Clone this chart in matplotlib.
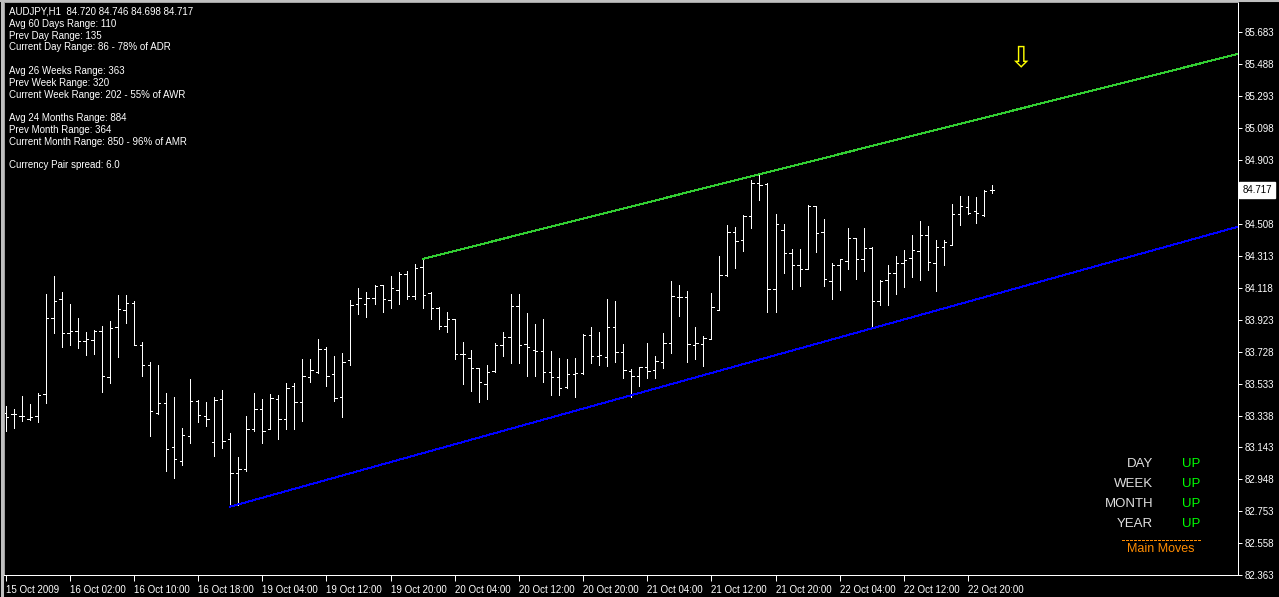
import numpy as np
import matplotlib
matplotlib.use("Agg")
import matplotlib.pyplot as plt
from matplotlib.lines import Line2D

# ---------- DATA (AUDJPY H1) ----------
opens = [83.354, 83.346, 83.336, 83.319, 83.336, 83.468, 83.933, 84.049, 83.841, 83.856,
         83.794, 83.800, 83.856, 83.572, 83.878, 83.982, 84.029, 83.768, 83.648, 83.354,
         83.417, 83.144, 83.060, 83.212, 83.426, 83.336, 83.177, 83.438, 83.193, 82.985,
         83.013, 83.254, 83.377, 83.254, 83.442, 83.316, 83.521, 83.419, 83.574, 83.603,
         83.745, 83.591, 83.450, 83.676, 84.019, 84.019, 84.056, 84.135, 84.045, 84.105,
         84.202, 84.068, 84.245, 84.086, 83.996, 83.884, 83.927, 83.713, 83.689, 83.627,
         83.533, 83.611, 83.768, 83.821, 84.007, 83.774, 83.739, 83.733, 83.607, 83.574,
         83.515, 83.591, 83.597, 83.831, 83.703, 83.695, 83.878, 83.725, 83.613, 83.580,
         83.634, 83.617, 83.664, 83.780, 84.062, 84.062, 83.768, 83.774, 83.805, 83.982,
         84.196, 84.459, 84.410, 84.559, 84.759, 84.755, 84.111, 84.471, 84.331, 84.261,
         84.233, 84.618, 84.463, 84.160, 84.257, 84.284, 84.423, 84.298, 84.363, 84.036,
         84.165, 84.210, 84.273, 84.304, 84.345, 84.445, 84.273, 84.367, 84.384, 84.568,
         84.615, 84.591, 84.564, 84.720]
highs = [83.399, 83.378, 83.458, 83.409, 83.474, 84.082, 84.192, 84.094, 84.021, 83.933,
         83.849, 83.862, 83.886, 83.917, 84.076, 84.076, 84.037, 83.786, 83.664, 83.648,
         83.474, 83.454, 83.262, 83.562, 83.432, 83.421, 83.454, 83.495, 83.234, 83.085,
         83.336, 83.474, 83.440, 83.470, 83.464, 83.536, 83.536, 83.684, 83.684, 83.807,
         83.756, 83.703, 83.719, 84.045, 84.119, 84.096, 84.137, 84.137, 84.192, 84.216,
         84.223, 84.265, 84.296, 84.092, 84.004, 83.974, 83.927, 83.786, 83.739, 83.631,
         83.646, 83.782, 83.848, 84.084, 84.082, 83.966, 83.898, 83.927, 83.733, 83.690,
         83.684, 83.690, 83.835, 83.878, 83.849, 84.049, 84.039, 83.774, 83.621, 83.637,
         83.780, 83.701, 83.841, 84.160, 84.135, 84.100, 83.881, 83.825, 84.090, 84.314,
         84.504, 84.493, 84.563, 84.779, 84.814, 84.763, 84.571, 84.510, 84.355, 84.357,
         84.626, 84.618, 84.539, 84.270, 84.298, 84.486, 84.424, 84.484, 84.367, 84.165,
         84.261, 84.317, 84.353, 84.441, 84.527, 84.496, 84.414, 84.410, 84.635, 84.681,
         84.681, 84.673, 84.717, 84.746]
lows = [83.246, 83.264, 83.307, 83.311, 83.301, 83.417, 83.845, 83.760, 83.772, 83.753,
        83.711, 83.713, 83.484, 83.539, 83.698, 83.906, 83.768, 83.582, 83.215, 83.346,
        83.001, 82.958, 83.038, 83.172, 83.301, 83.276, 83.093, 83.142, 82.781, 82.791,
        83.001, 83.246, 83.170, 83.254, 83.195, 83.256, 83.256, 83.307, 83.545, 83.597,
        83.521, 83.429, 83.331, 83.649, 83.961, 83.941, 84.023, 83.974, 83.998, 84.019,
        84.049, 84.053, 83.998, 83.931, 83.870, 83.851, 83.686, 83.533, 83.490, 83.423,
        83.440, 83.607, 83.705, 83.662, 83.660, 83.582, 83.580, 83.542, 83.464, 83.464,
        83.507, 83.454, 83.594, 83.662, 83.646, 83.643, 83.668, 83.570, 83.454, 83.521,
        83.570, 83.570, 83.627, 83.723, 83.950, 83.668, 83.686, 83.643, 83.805, 83.982,
        84.190, 84.243, 84.347, 84.487, 84.657, 83.974, 83.974, 84.212, 84.114, 84.131,
        84.233, 84.341, 84.133, 84.051, 84.108, 84.237, 84.174, 84.223, 83.871, 84.012,
        84.012, 84.084, 84.124, 84.185, 84.165, 84.230, 84.103, 84.257, 84.384, 84.503,
        84.574, 84.513, 84.560, 84.698]
closes = [83.328, 83.347, 83.337, 83.328, 83.464, 83.933, 84.037, 83.841, 83.856, 83.794,
          83.805, 83.857, 83.578, 83.872, 83.988, 84.029, 83.768, 83.648, 83.364, 83.413,
          83.132, 83.071, 83.218, 83.426, 83.342, 83.316, 83.434, 83.183, 82.985, 83.010,
          83.254, 83.377, 83.246, 83.444, 83.316, 83.505, 83.423, 83.580, 83.615, 83.745,
          83.580, 83.444, 83.664, 84.013, 84.056, 84.057, 84.131, 84.049, 84.117, 84.202,
          84.068, 84.239, 84.074, 83.994, 83.884, 83.927, 83.713, 83.713, 83.627, 83.545,
          83.603, 83.768, 83.821, 84.007, 83.768, 83.760, 83.733, 83.607, 83.574, 83.507,
          83.593, 83.597, 83.831, 83.705, 83.709, 83.878, 83.725, 83.615, 83.582, 83.634,
          83.609, 83.672, 83.780, 84.068, 84.062, 83.774, 83.780, 83.813, 84.000, 84.196,
          84.463, 84.408, 84.559, 84.759, 84.749, 84.111, 84.508, 84.331, 84.257, 84.237,
          84.618, 84.455, 84.172, 84.257, 84.294, 84.423, 84.298, 84.361, 84.037, 84.163,
          84.210, 84.273, 84.287, 84.353, 84.445, 84.278, 84.367, 84.400, 84.568, 84.619,
          84.580, 84.580, 84.714, 84.717]

# trendline anchor points (bar index, price)
green_x = [52, 94]
green_y = [84.296, 84.814]
blue_x = [28, 108]
blue_y = [82.781, 83.871]

price_ticks = [82.363, 82.558, 82.753, 82.948, 83.143, 83.338, 83.533, 83.728, 83.923,
               84.118, 84.313, 84.508, 84.708, 84.903, 85.098, 85.293, 85.488, 85.683]
time_pos = [0, 8, 16, 24, 32, 40, 48, 56, 64, 72, 80, 88, 96, 104, 112, 120]
time_labels = ["15 Oct 2009", "16 Oct 02:00", "16 Oct 10:00", "16 Oct 18:00",
               "19 Oct 04:00", "19 Oct 12:00", "19 Oct 20:00", "20 Oct 04:00",
               "20 Oct 12:00", "20 Oct 20:00", "21 Oct 04:00", "21 Oct 12:00",
               "21 Oct 20:00", "22 Oct 04:00", "22 Oct 12:00", "22 Oct 20:00"]

info_lines = ["AUDJPY,H1  84.720 84.746 84.698 84.717",
              "Avg 60 Days Range: 110", "Prev Day Range: 135",
              "Current Day Range: 86 - 78% of ADR", "",
              "Avg 26 Weeks Range: 363", "Prev Week Range: 320",
              "Current Week Range: 202 - 55% of AWR", "",
              "Avg 24 Months Range: 884", "Prev Month Range: 364",
              "Current Month Range: 850 - 96% of AMR", "",
              "Currency Pair spread: 6.0"]
moves_names = ["DAY", "WEEK", "MONTH", "YEAR"]
moves_dirs = ["UP", "UP", "UP", "UP"]

last_price = 84.717
arrow_bar, arrow_price = 126.5, 85.525

plt.rcParams['font.family'] = ['Liberation Sans', 'DejaVu Sans']

W, H = 1279, 597
LW = 0.72  # one pixel at 100 dpi
fig = plt.figure(figsize=(W / 100, H / 100), dpi=100, facecolor="black")
ax = fig.add_axes([4 / W, (H - 575) / H, (1238 - 4) / W, (575 - 2) / H])
ax.set_facecolor("black")

# grey window frame on the left and top edges
fig.add_artist(Line2D([1.5 / W, 1.5 / W], [0, 1], color="#c0c0c0", lw=2.2))
fig.add_artist(Line2D([0, 1], [1 - 1 / H, 1 - 1 / H], color="#c0c0c0", lw=1.5))

x = np.arange(len(opens))
xl = (-0.2, 153.67)
ax.set_xlim(*xl)
ax.set_ylim(82.363, 85.8676)

# ---------- OHLC BARS ----------
ax.vlines(x, lows, highs, color="white", lw=LW, antialiased=False)
ax.hlines(opens, x - 0.3, x, color="white", lw=LW, antialiased=False)
ax.hlines(closes, x, x + 0.3, color="white", lw=LW, antialiased=False)

# ---------- TRENDLINES ----------
for tx, ty, col in [(green_x, green_y, "#32cd32"), (blue_x, blue_y, "#0000ff")]:
    slope = (ty[1] - ty[0]) / (tx[1] - tx[0])
    xs = np.array([tx[0], xl[1]])
    ax.plot(xs, ty[0] + slope * (xs - tx[0]), color=col, lw=LW, antialiased=False)

# ---------- AXES ----------
for s in ax.spines.values():
    s.set_color("white")
    s.set_linewidth(LW)
ax.spines["left"].set_color("#a0a0a0")
ax.spines["top"].set_color("#a0a0a0")

ax.yaxis.tick_right()
ax.set_yticks(price_ticks)
ax.set_yticklabels(["" if abs(p - 84.708) < 1e-6 else f"{p:.3f}" for p in price_ticks])
ax.tick_params(axis="y", colors="white", labelsize=7, length=3, width=LW, pad=1.5)

ax.set_xticks(time_pos)
ax.set_xticklabels(time_labels, ha="left")
ax.tick_params(axis="x", colors="white", labelsize=7, length=4, width=LW, pad=3)

# current price box
ax.text(1.0035, last_price, f"{last_price:.3f}", transform=ax.get_yaxis_transform(),
        color="black", fontsize=7, va="center", ha="left",
        bbox=dict(facecolor="white", edgecolor="white", boxstyle="square,pad=0.3"))

# ---------- TEXT OVERLAYS ----------
for i, line in enumerate(info_lines):
    fig.text(9 / W, 1 - (12 + i * 11.8) / H, line, color="white", fontsize=7, va="center")

for i, (nm, d) in enumerate(zip(moves_names, moves_dirs)):
    yy = 1 - (464 + i * 20) / H
    fig.text(1153 / W, yy, nm, color="#e0e0e0", fontsize=9.5, ha="right", va="center")
    fig.text(1182 / W, yy, d, color="#00ff00", fontsize=9.5, ha="left", va="center")
fig.add_artist(Line2D([1122 / W, 1200 / W], [1 - 540 / H, 1 - 540 / H], color="#ff8c00",
                      lw=LW, dashes=(2.9, 1.45), antialiased=False))
fig.text(1161 / W, 1 - 549 / H, "Main Moves", color="#ff8c00", fontsize=9, ha="center", va="center")

ax.text(arrow_bar, arrow_price, "\u21e9", color="#ffff00", fontsize=21, ha="center", va="center",
        family="DejaVu Sans")

fig.savefig("out.png", dpi=100, facecolor="black")
